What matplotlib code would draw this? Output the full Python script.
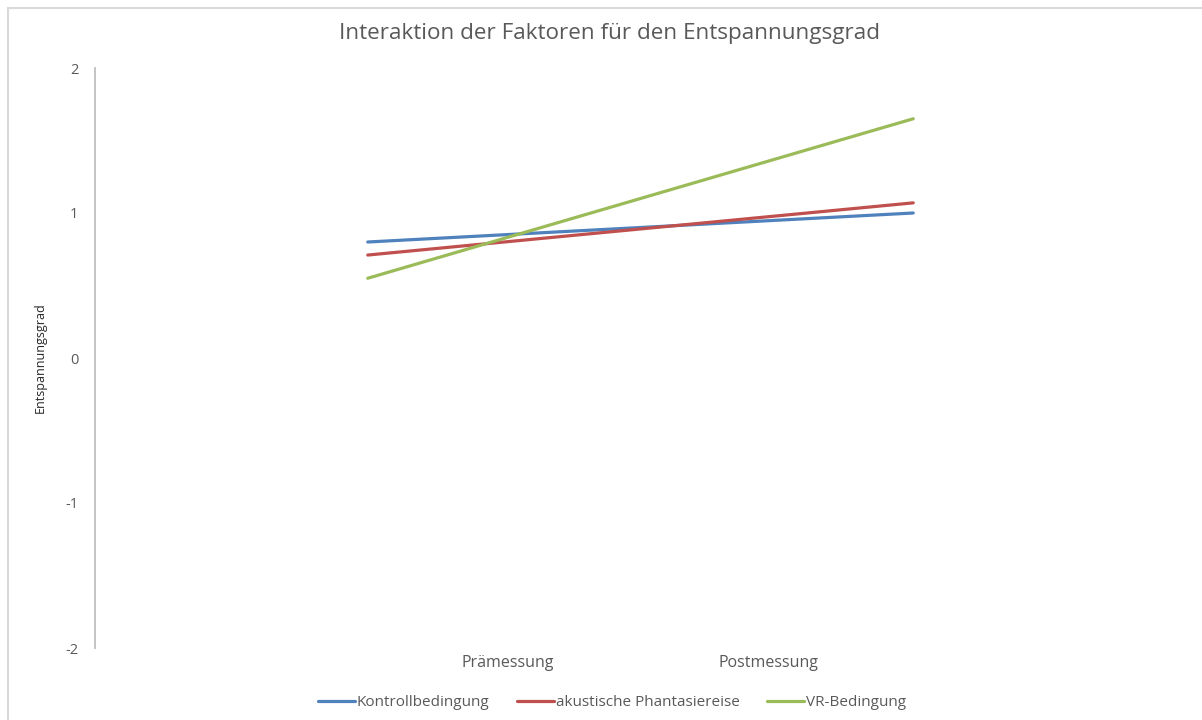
import matplotlib
matplotlib.use("Agg")
import matplotlib.pyplot as plt
from matplotlib.patches import Rectangle

# Mean relaxation level per condition, before and after the intervention
series_names = ["Kontrollbedingung", "akustische Phantasiereise", "VR-Bedingung"]
kontroll = [0.80, 1.00]
akustisch = [0.71, 1.07]
vr = [0.55, 1.65]
categories = ["Prämessung", "Postmessung"]
y_ticks = [-2, -1, 0, 1, 2]

colors = ["#4F81BD", "#C0504D", "#9BBB59"]
text_grey = "#595959"
font = ["Open Sans", "DejaVu Sans"]

plt.rcParams["font.family"] = font

fig = plt.figure(figsize=(12.02, 7.2), dpi=100)
fig.patch.set_facecolor("white")

# thin grey frame around the chart area
fig.add_artist(Rectangle((8 / 1202, -0.05), 1.2, 1 - 8 / 720 + 0.05,
                         transform=fig.transFigure, fill=False,
                         edgecolor="#D9D9D9", lw=1.5))

ax = fig.add_axes([95 / 1202, 1 - 648 / 720, (1186 - 95) / 1202, (648 - 68) / 720])

x = [0, 1]
for vals, name, c in zip([kontroll, akustisch, vr], series_names, colors):
    ax.plot(x, vals, color=c, lw=2.3, label=name, solid_capstyle="round")

ax.set_xlim(-0.5, 1.5)
ax.set_ylim(-2, 2)
ax.set_yticks(y_ticks)
ax.set_yticklabels([str(v) for v in y_ticks])
ax.set_xticks([0.256, 0.734])
ax.set_xticklabels(categories)
ax.tick_params(axis="y", length=0, pad=12, labelsize=10.5, labelcolor=text_grey)
ax.tick_params(axis="x", length=0, pad=5, labelsize=11.5, labelcolor=text_grey)

for side in ["top", "right", "bottom"]:
    ax.spines[side].set_visible(False)
ax.spines["left"].set_color("#BFBFBF")
ax.spines["left"].set_linewidth(1.3)

ax.set_ylabel("Entspannungsgrad", fontsize=9, color="#262626")
ax.yaxis.set_label_coords((47 - 95) / (1186 - 95), 0.5)

fig.text(0.507, 1 - 34 / 720, "Interaktion der Faktoren für den Entspannungsgrad",
         ha="center", va="center", fontsize=16.2, color=text_grey)

leg = fig.legend(loc="center", bbox_to_anchor=(0.509, 1 - 703 / 720), ncol=3,
                 frameon=False, fontsize=11, handlelength=2.4, handletextpad=0.13,
                 columnspacing=1.8)
for t in leg.get_texts():
    t.set_color(text_grey)

fig.savefig("out.png", dpi=100, facecolor="white")
